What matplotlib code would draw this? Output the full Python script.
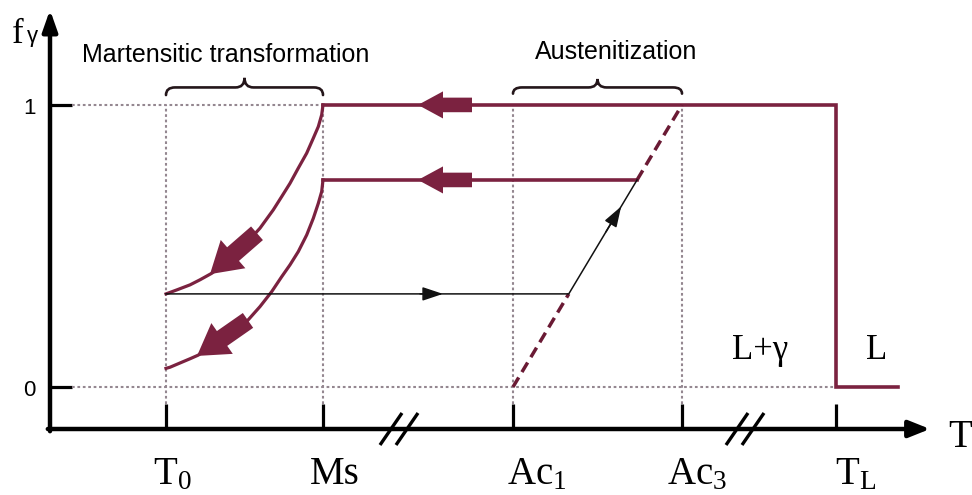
import matplotlib
matplotlib.use("Agg")
import matplotlib.pyplot as plt
from matplotlib.path import Path
from matplotlib.patches import PathPatch, FancyArrowPatch

# characteristic temperatures on the T axis (schematic units)
temp_labels = [r"$\mathrm{T}_\mathrm{0}$", "Ms", r"$\mathrm{Ac}_\mathrm{1}$",
               r"$\mathrm{Ac}_\mathrm{3}$", r"$\mathrm{T}_\mathrm{L}$"]
temp_pos = [166, 323, 513, 682, 836]
T_liquid_end = 898

# austenite fraction levels
f_ticks = [0, 1]
f_tick_labels = ["0", "1"]
f_partial = 0.734      # partial austenitization reached on heating
f_reheat = 0.33        # retained austenite after first quench

# cooling curves below Ms (austenite -> martensite)
upper_T = [323, 321.7, 318.3, 313.3, 306.7, 298.3, 290, 281.7, 273.3, 260,
           243.3, 226.7, 211.7, 200, 190, 176.7, 166]
upper_f = [1.0, 0.965, 0.923, 0.882, 0.829, 0.776, 0.722, 0.675, 0.628, 0.563,
           0.498, 0.444, 0.403, 0.380, 0.362, 0.344, 0.33]
lower_T = [323, 321.7, 318.3, 313.3, 306.7, 298.3, 290, 281.7, 271.7, 260,
           246.7, 222, 198.3, 190, 183.3, 170, 166]
lower_f = [0.734, 0.693, 0.651, 0.598, 0.539, 0.480, 0.433, 0.391, 0.338, 0.285,
           0.232, 0.174, 0.113, 0.100, 0.090, 0.070, 0.066]

# x positions of the axis breaks
break_pos = [399, 745]

MAROON = "#7b2240"
DOT = "#948790"
INK = "#111111"

plt.rcParams["mathtext.fontset"] = "custom"
plt.rcParams["mathtext.rm"] = "Liberation Serif"
plt.rcParams["mathtext.it"] = "Liberation Serif:italic"

PX = 1 / 282.0          # one pixel in f units
fig = plt.figure(figsize=(9.72, 4.95), dpi=100)
ax = fig.add_axes([0, 0, 1, 1])
ax.set_xlim(0, 972)
ax.set_ylim(-0.383, 1.372)
ax.axis("off")

x0 = 50                 # T axis origin
f_axis = -0.149         # height of the T axis
f_top = 1.337
T_end = 930
tick_top = -0.060

# axes with arrow heads
ax.annotate("", xy=(T_end, f_axis), xytext=(x0 - 2.2, f_axis),
            arrowprops=dict(arrowstyle="-|>,head_length=0.85,head_width=0.34",
                            mutation_scale=15, lw=3.2, color="k",
                            shrinkA=0, shrinkB=0))
ax.annotate("", xy=(x0, f_top), xytext=(x0, f_axis - 2.2 * PX),
            arrowprops=dict(arrowstyle="-|>,head_length=0.85,head_width=0.3",
                            mutation_scale=15, lw=3.2, color="k",
                            shrinkA=0, shrinkB=0))

# axis breaks
for b in break_pos:
    for off in (-8, 8):
        ax.plot([b + off - 11, b + off + 11], [f_axis - 16 * PX, f_axis + 16 * PX],
                color="k", lw=2.4, solid_capstyle="butt")

# ticks
ax.vlines(temp_pos, f_axis, tick_top, color="k", lw=2.3)
ax.hlines(f_ticks, x0, x0 + 22, color="k", lw=2.3)
for f, lab in zip(f_ticks, f_tick_labels):
    ax.annotate(lab, xy=(x0, f), xytext=(-21, -4), textcoords="offset pixels",
                ha="center", va="center", fontsize=16, family="Liberation Sans")

# dotted guide lines
dot = dict(color=DOT, lw=1.5, linestyle=(0, (1.3, 1.3)))
ax.hlines(1, x0 + 22, temp_pos[1], **dot)
ax.hlines(0, x0 + 22, temp_pos[4], **dot)
ax.vlines(temp_pos[:4], tick_top, 1, **dot)

# temperature labels
label_dx = [-13, -13, -6, -15, -1]
for t, lab, dx in zip(temp_pos, temp_labels, label_dx):
    ax.annotate(lab, xy=(t, f_axis), xytext=(dx, -55), textcoords="offset pixels",
                ha="left", va="baseline", fontsize=28, family="Liberation Serif")
ax.annotate("T", xy=(T_end, f_axis), xytext=(18, -18), textcoords="offset pixels",
            ha="left", va="baseline", fontsize=28, family="Liberation Serif")

# f_gamma label
ax.text(12, (387 - 43) * PX, "f", ha="left", va="baseline",
        fontsize=25, family="Liberation Serif")
ax.text(27, (387 - 42) * PX, "γ", ha="left", va="baseline",
        fontsize=16, family="Liberation Sans")

# full austenite -> liquid line, and partial austenite line
Ms, Ac1, Ac3, TL = temp_pos[1], temp_pos[2], temp_pos[3], temp_pos[4]
ax.plot([Ms, TL, TL, T_liquid_end], [1, 1, 0, 0], color=MAROON, lw=2.6,
        solid_joinstyle="miter")
x_partial = Ac1 + f_partial * (Ac3 - Ac1)
x_reheat = Ac1 + f_reheat * (Ac3 - Ac1)
ax.plot([Ms, x_partial], [f_partial, f_partial], color=MAROON, lw=2.6)

# equilibrium austenitization line Ac1 -> Ac3 (dashed where not followed)
dash = dict(color="#6a1a34", lw=2.5, linestyle=(0, (3.2, 1.8)))
ax.plot([Ac1, x_reheat], [0, f_reheat], **dash)
ax.plot([x_partial, Ac3], [f_partial, 1], **dash)

# cooling curves
ax.plot(upper_T, upper_f, color=MAROON, lw=2.3, solid_joinstyle="round")
ax.plot(lower_T, lower_f, color=MAROON, lw=2.3, solid_joinstyle="round")

# reheating path
ax.plot([temp_pos[0], x_reheat, x_partial], [f_reheat, f_reheat, f_partial],
        color=INK, lw=1.1)
small = dict(arrowstyle="-|>,head_length=0.9,head_width=0.3", mutation_scale=14,
             lw=1.1, color=INK, shrinkA=0, shrinkB=0)
ax.add_patch(FancyArrowPatch((420, f_reheat), (443, f_reheat), **small))
fa, fb = 0.55, 0.64
ax.add_patch(FancyArrowPatch((Ac1 + fa * (Ac3 - Ac1), fa),
                             (Ac1 + fb * (Ac3 - Ac1), fb), **small))

# thick direction arrows
big = dict(arrowstyle="simple,head_length=18,head_width=19.5,tail_width=10.5",
           mutation_scale=1, color=MAROON, lw=0, shrinkA=0, shrinkB=0)
for f in (1, f_partial):
    ax.add_patch(FancyArrowPatch((472, f), (418, f), **big))
curve_arrow = dict(big, arrowstyle="simple,head_length=22,head_width=27,tail_width=13")
ax.add_patch(FancyArrowPatch((257, 0.545), (210, 0.400), **curve_arrow))
ax.add_patch(FancyArrowPatch((248, 0.236), (197, 0.110), **curve_arrow))


def brace(xa, xb, yb, ym, yt, q=9):
    xc = (xa + xb) / 2
    verts = [(xa, yb), (xa, ym), (xa + q, ym), (xc - q, ym), (xc, ym), (xc, yt),
             (xc, ym), (xc + q, ym), (xb - q, ym), (xb, ym), (xb, yb)]
    codes = [Path.MOVETO, Path.CURVE3, Path.CURVE3, Path.LINETO, Path.CURVE3,
             Path.CURVE3, Path.CURVE3, Path.CURVE3, Path.LINETO, Path.CURVE3,
             Path.CURVE3]
    ax.add_patch(PathPatch(Path(verts, codes), fill=False, lw=1.9,
                           edgecolor="#24161a", capstyle="round"))


brace(temp_pos[0], temp_pos[1], 1.035, 1.062, 1.096)
brace(Ac1, Ac3, 1.040, 1.062, 1.092)
ax.text((temp_pos[0] + temp_pos[1]) / 2 - 19, 1.177, "Martensitic transformation",
        ha="center", va="center", fontsize=18, family="Liberation Sans")
ax.text((Ac1 + Ac3) / 2 + 19, 1.188, "Austenitization",
        ha="center", va="center", fontsize=18, family="Liberation Sans")

# phase regions
ax.text(760, (387 - 359) * PX, "L+γ", ha="center", va="baseline",
        fontsize=25, family="Liberation Serif")
ax.text(877, (387 - 359) * PX, "L", ha="center", va="baseline",
        fontsize=25, family="Liberation Serif")

fig.savefig("out.png", dpi=100, facecolor="white")
